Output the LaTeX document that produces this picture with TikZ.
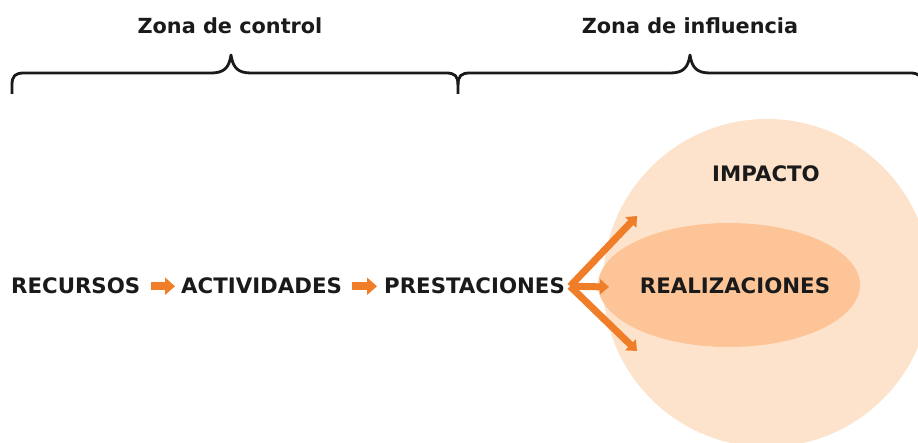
\documentclass[tikz,border=0pt]{standalone}
\usepackage{fontspec}
\setmainfont{DejaVu Sans}
\usetikzlibrary{arrows.meta,positioning}
\definecolor{naranja}{RGB}{240,125,40}
\definecolor{circulo}{RGB}{253,227,204}
\definecolor{elipse}{RGB}{253,197,151}
\definecolor{texto}{RGB}{26,26,26}
\tikzset{
  etiqueta/.style={font=\fontsize{21.3}{25}\selectfont\bfseries, text=texto, inner sep=0pt},
  zona/.style={font=\fontsize{20.8}{25}\selectfont\bfseries, text=texto, inner sep=0pt},
  llave/.style={line width=2.8pt, texto, line cap=butt, line join=round},
  flechita/.style={naranja, line width=8pt, -{Triangle[width=17pt,length=10pt]}},
  flecha/.style={naranja, line width=7pt, line cap=butt, -{Triangle[width=15pt,length=9pt]}}
}
\begin{document}
\begin{tikzpicture}[x=1pt,y=-1pt]
\useasboundingbox (0,0) rectangle (918,443);
\clip (0,0) rectangle (918,443);
% zonas
\node[zona, anchor=base] (control) at (230,34) {Zona de control};
\node[zona, anchor=base] (influencia) at (690,34) {Zona de influencia};
\draw[llave] (12,94) -- (12,85) .. controls (12,76) and (15,73) .. (24,73) -- (211,73)
  .. controls (224,73) and (229,68) .. (231,55) .. controls (233,68) and (238,73) .. (251,73)
  -- (446,73) .. controls (455,73) and (458,76) .. (458,85) -- (458,94);
\draw[llave] (458,85) .. controls (458,76) and (461,73) .. (470,73) -- (670,73)
  .. controls (683,73) and (688,68) .. (690,55) .. controls (692,68) and (697,73) .. (710,73)
  -- (910,73) .. controls (919,73) and (922,76) .. (922,85) -- (922,94);
% circulo y elipse
\fill[circulo] (767,283) circle (164);
\fill[elipse] (729,285) ellipse (131 and 62);
% cadena
\node[etiqueta, anchor=base west] (recursos) at (11,294) {RECURSOS};
\node[etiqueta, anchor=base west] (actividades) at (181,294) {ACTIVIDADES};
\node[etiqueta, anchor=base west] (prestaciones) at (384,294) {PRESTACIONES};
\node[etiqueta, anchor=base] (realizaciones) at (735,294) {REALIZACIONES};
\node[etiqueta, anchor=base] (impacto) at (766,182) {IMPACTO};
\draw[flechita, shorten <=11pt, shorten >=6pt] (recursos.east) -- (actividades.west);
\draw[flechita, shorten <=10pt, shorten >=7pt] (actividades.east) -- (prestaciones.west);
% horquilla
\coordinate (horquilla) at ([xshift=5pt]prestaciones.east);
\coordinate (arriba) at (637,216);
\coordinate (medio) at (609,287);
\coordinate (abajo) at (637,351);
\draw[flecha] (horquilla) -- (arriba);
\draw[flecha] (horquilla) -- (medio);
\draw[flecha] (horquilla) -- (abajo);
\end{tikzpicture}
\end{document}
